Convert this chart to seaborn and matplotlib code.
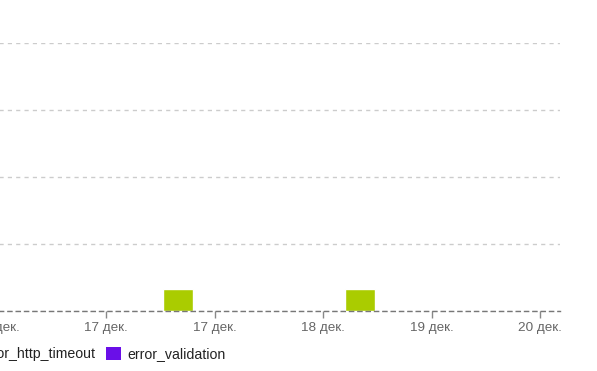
import pandas as pd
import matplotlib.pyplot as plt
import seaborn as sns
from matplotlib.patches import Patch

# data (x in days from the first tick)
tick_pos = [0, 1, 2, 3, 4, 5]
tick_labels = ["16 дек.", "17 дек.", "17 дек.", "18 дек.", "19 дек.", "20 дек."]
bar_x = [1.664, 3.341]
bar_counts = [1, 1]
series_names = ["error_http_timeout", "error_validation"]
series_colors = ["#aacc00", "#6a0fe8"]
y_ticks = [0, 3, 6, 9, 12]

sns.set_theme(style="white")
plt.rcParams["font.family"] = ["Liberation Sans", "DejaVu Sans"]

df = pd.DataFrame({"x": bar_x, "count": bar_counts, "type": series_names[0]})

fig = plt.figure(figsize=(5.97, 3.71), dpi=100)
ax = fig.add_axes([-111 / 597, 60 / 371, 671 / 597, 268 / 371])

sns.barplot(data=df, x="x", y="count", native_scale=True, width=0.165,
            color=series_colors[0], saturation=1, errorbar=None, ax=ax, zorder=3)

ax.set_xlim(-1, 5 + 20 / 108.5)
ax.set_ylim(0, 12)
ax.set_yticks(y_ticks)
ax.set_yticklabels([])
ax.tick_params(axis="y", length=0)
ax.set_xticks(tick_pos)
ax.set_xticklabels(tick_labels, color="#666666", fontsize=9.7)
ax.tick_params(axis="x", length=5, width=1, color="#888888", direction="out", pad=3, bottom=True)
ax.set_xlabel("")
ax.set_ylabel("")

ax.grid(axis="y", color="#cccccc", linestyle=(0, (3, 3)), linewidth=1, zorder=0)
ax.grid(axis="x", visible=False)
for s in ["top", "right", "left"]:
    ax.spines[s].set_visible(False)
ax.spines["bottom"].set_color("#777777")
ax.spines["bottom"].set_linestyle((0, (3, 3)))
ax.spines["bottom"].set_linewidth(1)
ax.spines["bottom"].set_zorder(4)

handles = [Patch(facecolor=c, edgecolor="none") for c in series_colors]
fig.legend(handles, series_names, loc="center right", bbox_to_anchor=(238 / 597, 17 / 371),
           ncol=2, frameon=False, fontsize=10.2, handlelength=1.0, handleheight=1.0,
           handletextpad=0.45, columnspacing=0.8, labelcolor="#222222")

plt.savefig("out.png", dpi=100)
